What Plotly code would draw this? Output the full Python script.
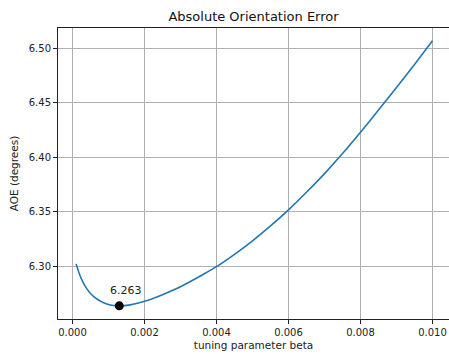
import plotly.graph_objects as go

beta = [0.0001, 0.0002, 0.0003, 0.0004, 0.0005, 0.0006, 0.0007, 0.0008, 0.0009, 0.0010,
        0.0011, 0.0012, 0.0013, 0.0014, 0.0015, 0.0016, 0.0018, 0.0020, 0.0022, 0.0025,
        0.0028, 0.0030, 0.0033, 0.0036, 0.0040, 0.0045, 0.0050, 0.0055, 0.0060, 0.0065,
        0.0070, 0.0075, 0.0080, 0.0085, 0.0090, 0.0095, 0.0100]
aoe = [6.3020, 6.2920, 6.2845, 6.2790, 6.2748, 6.2716, 6.2692, 6.2673, 6.2658, 6.2647,
       6.2640, 6.2636, 6.2634, 6.2635, 6.2638, 6.2643, 6.2657, 6.2676, 6.2698, 6.2736,
       6.2779, 6.2810, 6.2862, 6.2918, 6.2995, 6.3108, 6.3232, 6.3369, 6.3517, 6.3678,
       6.3850, 6.4035, 6.4231, 6.4434, 6.4641, 6.4854, 6.5071]
min_beta = [0.0013]
min_aoe = [6.2634]
min_label = ["6.263"]

font = "DejaVu Sans"
fig = go.Figure()
fig.add_trace(go.Scatter(x=beta, y=aoe, mode="lines",
                         line=dict(color="#1f77b4", width=1.6, shape="spline", smoothing=0.6),
                         showlegend=False, hoverinfo="skip"))
fig.add_trace(go.Scatter(x=min_beta, y=min_aoe, mode="markers", marker=dict(color="black", size=9),
                         showlegend=False, hoverinfo="skip"))
for bx, by, lab in zip(min_beta, min_aoe, min_label):
    fig.add_annotation(x=bx, y=by, text=lab, showarrow=False, xshift=7, yshift=15,
                       font=dict(family=font, size=11, color="#222"))

fig.update_layout(
    width=449, height=354,
    margin=dict(l=58, r=0, t=28, b=35),
    paper_bgcolor="white", plot_bgcolor="white",
    font=dict(family=font, size=10, color="#222"),
    title=dict(text="Absolute Orientation Error", x=0.5, xref="paper", xanchor="center",
               y=1 - 16 / 354, yanchor="middle", yref="container",
               font=dict(family=font, size=13, color="#111")),
)
fig.update_xaxes(range=[-0.000403, 0.010458], tickvals=[0, 0.002, 0.004, 0.006, 0.008, 0.010],
                 ticktext=["0.000", "0.002", "0.004", "0.006", "0.008", "0.010"],
                 showgrid=True, gridcolor="#b0b0b0", gridwidth=0.8,
                 showline=True, linecolor="#222", linewidth=1, mirror=True,
                 ticks="outside", ticklen=4, tickcolor="#222", zeroline=False,
                 title=dict(text="tuning parameter beta", standoff=4, font=dict(family=font, size=10.5)))
fig.update_yaxes(range=[6.2513, 6.5189], tickvals=[6.30, 6.35, 6.40, 6.45, 6.50],
                 ticktext=["6.30", "6.35", "6.40", "6.45", "6.50"],
                 showgrid=True, gridcolor="#b0b0b0", gridwidth=0.8,
                 showline=True, linecolor="#222", linewidth=1, mirror=False,
                 ticks="outside", ticklen=4, tickcolor="#222", zeroline=False,
                 title=dict(text="AOE (degrees)", standoff=8, font=dict(family=font, size=10.5)))

fig.write_html("out.html")
